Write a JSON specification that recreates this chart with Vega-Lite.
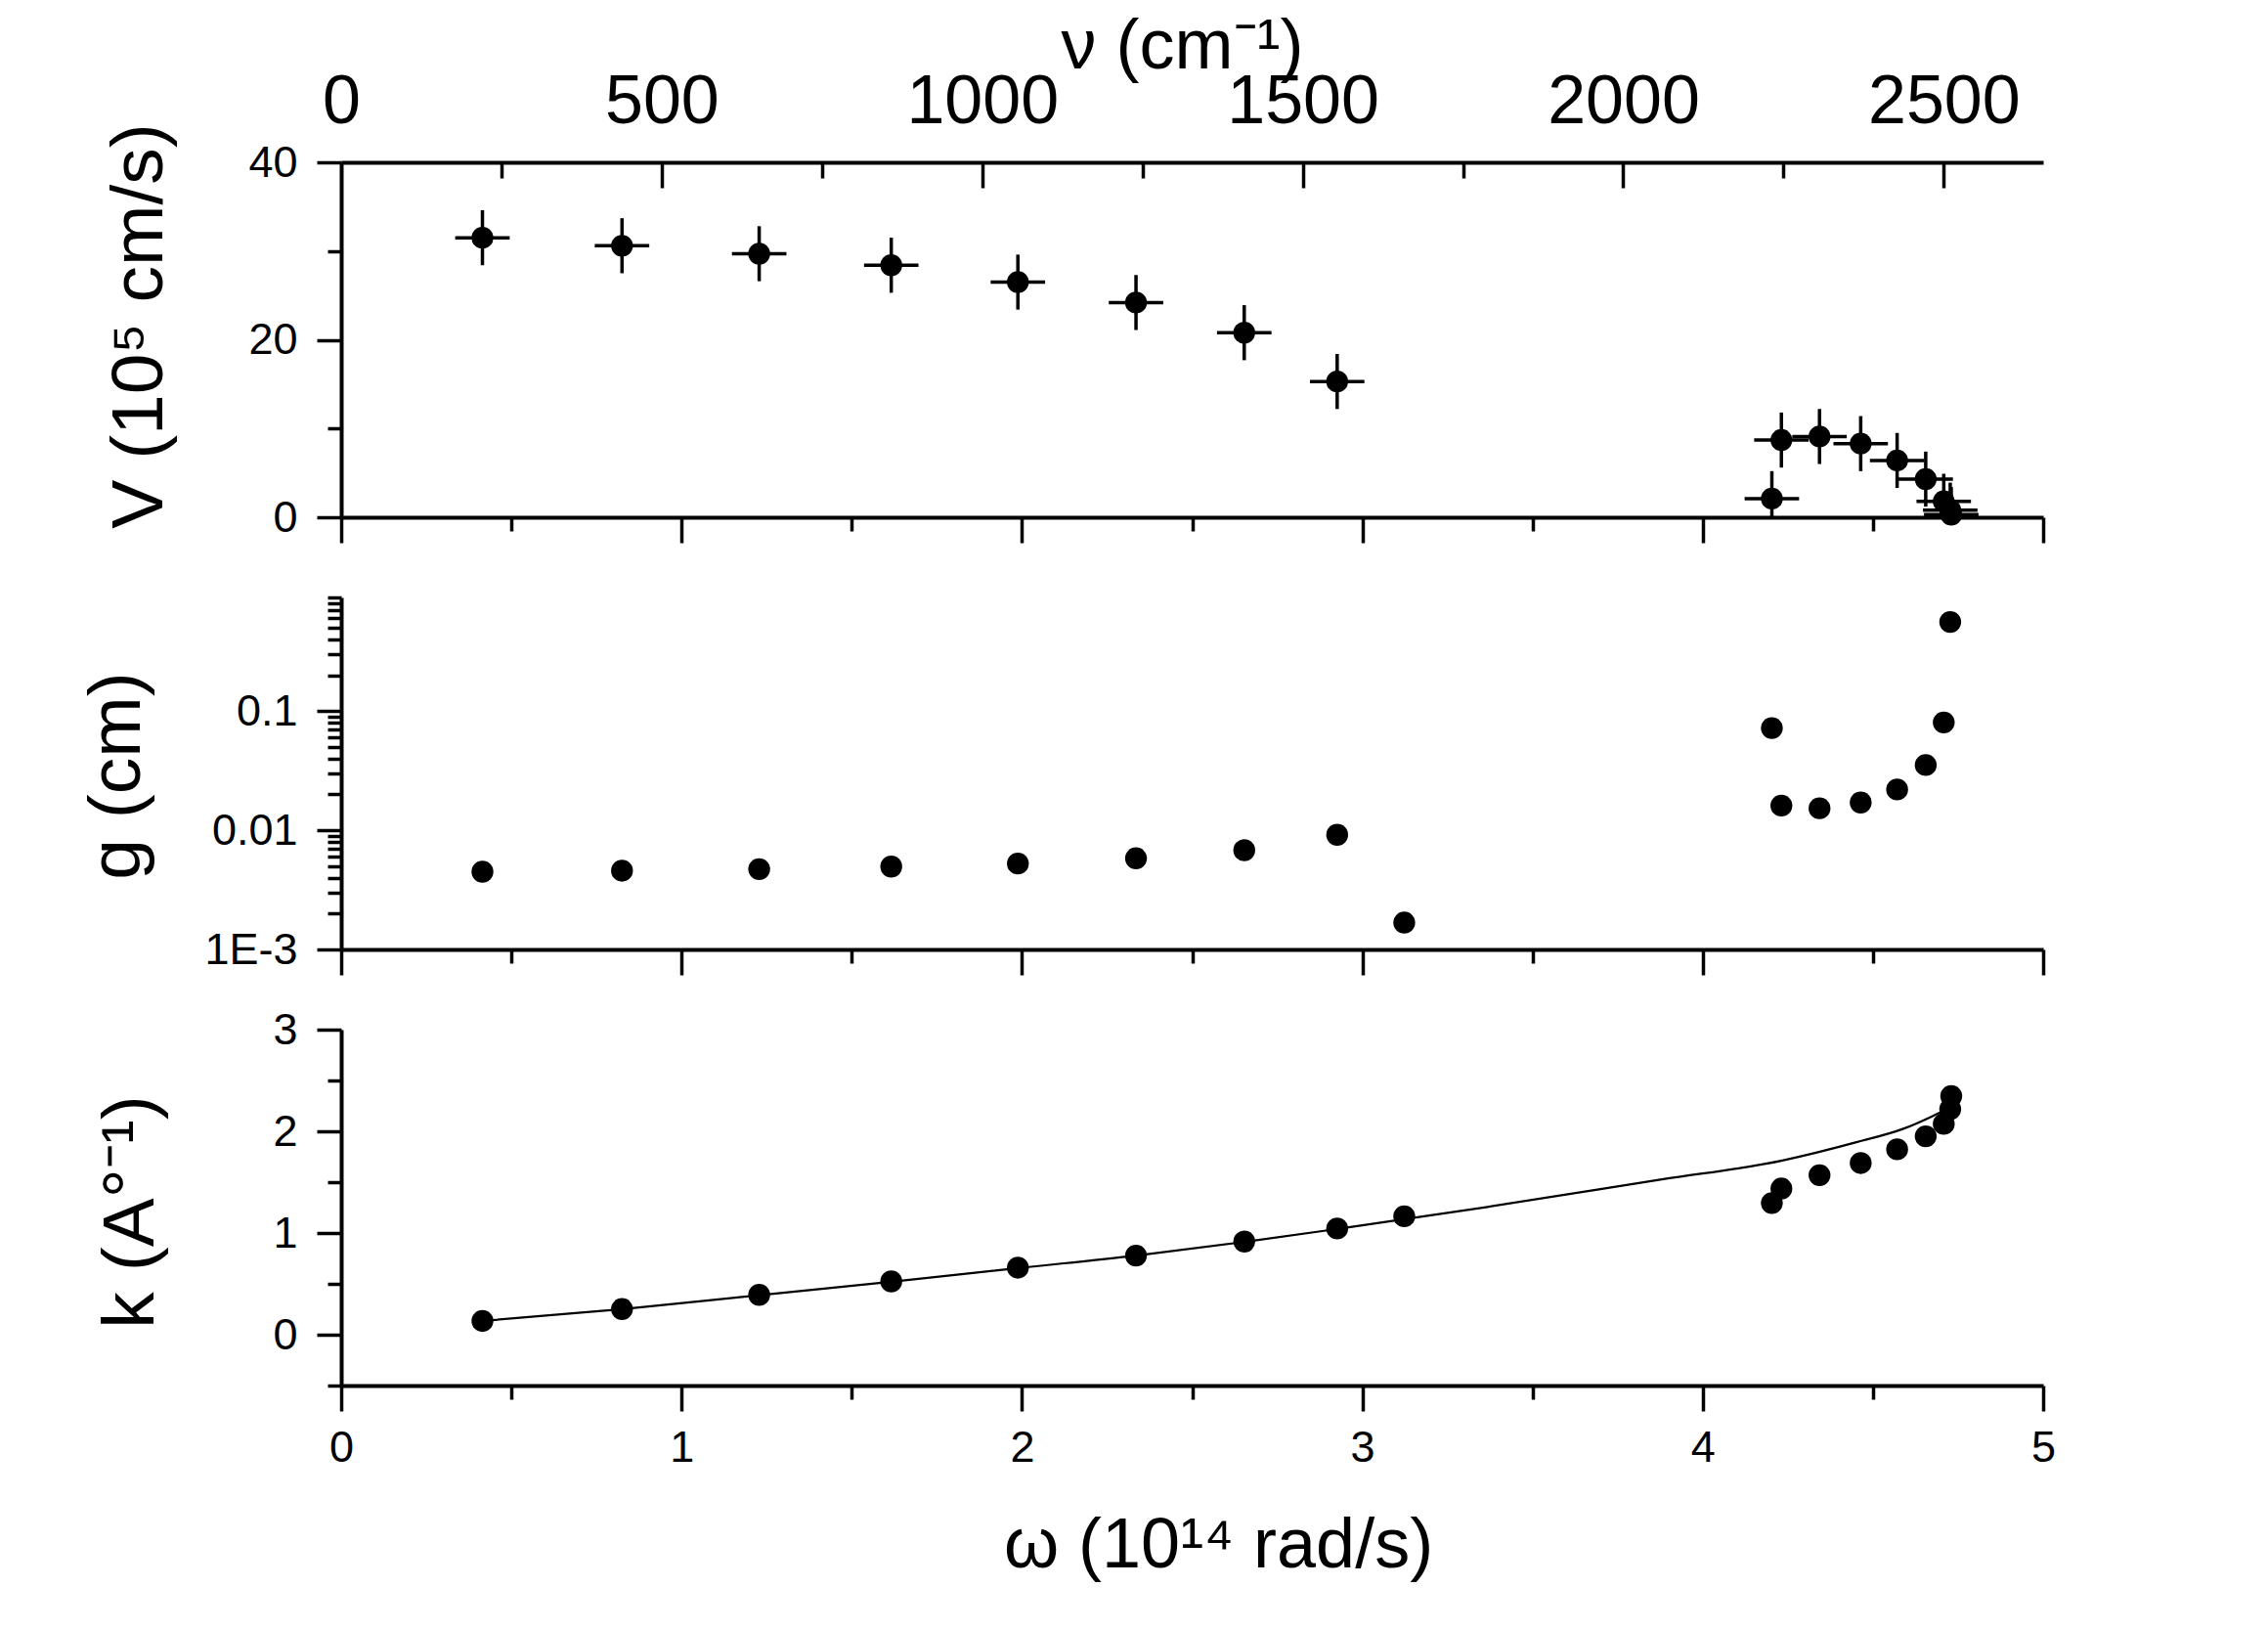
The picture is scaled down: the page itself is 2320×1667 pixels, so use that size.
{
  "$schema": "https://vega.github.io/schema/vega-lite/v6.json",
  "width": 1741,
  "height": 1251,
  "autosize": {"type": "none"},
  "padding": {"left": 349, "top": 166, "right": 230, "bottom": 250},
  "background": "white",
  "config": {
    "font": "Liberation Sans",
    "view": {"stroke": null},
    "axis": {
      "grid": false,
      "labelFlush": false,
      "domainColor": "black",
      "domainWidth": 4,
      "tickColor": "black",
      "tickWidth": 3.5,
      "labelColor": "black",
      "titleColor": "black",
      "labelFont": "Liberation Sans",
      "titleFont": "Liberation Sans",
      "labelFontWeight": "normal",
      "titleFontWeight": "normal",
      "labelFontSize": 45,
      "titleFontSize": 75
    }
  },
  "datasets": {
    "vel": [
      {"omega": 0.415, "V": 31.5, "V_lo": 28.4, "V_hi": 34.6, "w_lo": 0.335, "w_hi": 0.495},
      {"omega": 0.825, "V": 30.6, "V_lo": 27.5, "V_hi": 33.7, "w_lo": 0.745, "w_hi": 0.905},
      {"omega": 1.228, "V": 29.7, "V_lo": 26.6, "V_hi": 32.8, "w_lo": 1.148, "w_hi": 1.308},
      {"omega": 1.616, "V": 28.4, "V_lo": 25.3, "V_hi": 31.5, "w_lo": 1.536, "w_hi": 1.696},
      {"omega": 1.988, "V": 26.5, "V_lo": 23.4, "V_hi": 29.6, "w_lo": 1.908, "w_hi": 2.068},
      {"omega": 2.335, "V": 24.2, "V_lo": 21.1, "V_hi": 27.3, "w_lo": 2.255, "w_hi": 2.415},
      {"omega": 2.653, "V": 20.8, "V_lo": 17.7, "V_hi": 23.9, "w_lo": 2.573, "w_hi": 2.733},
      {"omega": 2.926, "V": 15.3, "V_lo": 12.2, "V_hi": 18.4, "w_lo": 2.846, "w_hi": 3.006},
      {"omega": 4.203, "V": 2.1, "V_lo": 0, "V_hi": 5.2, "w_lo": 4.123, "w_hi": 4.283},
      {"omega": 4.231, "V": 8.7, "V_lo": 5.6, "V_hi": 11.8, "w_lo": 4.151, "w_hi": 4.311},
      {"omega": 4.343, "V": 9.1, "V_lo": 6.0, "V_hi": 12.2, "w_lo": 4.263, "w_hi": 4.423},
      {"omega": 4.464, "V": 8.3, "V_lo": 5.2, "V_hi": 11.4, "w_lo": 4.384, "w_hi": 4.544},
      {"omega": 4.571, "V": 6.4, "V_lo": 3.3, "V_hi": 9.5, "w_lo": 4.491, "w_hi": 4.651},
      {"omega": 4.655, "V": 4.3, "V_lo": 1.2, "V_hi": 7.4, "w_lo": 4.575, "w_hi": 4.735},
      {"omega": 4.708, "V": 1.8, "V_lo": 0, "V_hi": 4.9, "w_lo": 4.628, "w_hi": 4.788},
      {"omega": 4.727, "V": 0.8, "V_lo": 0, "V_hi": 3.9, "w_lo": 4.647, "w_hi": 4.807},
      {"omega": 4.73, "V": 0.3, "V_lo": 0, "V_hi": 3.4, "w_lo": 4.65, "w_hi": 4.81}
    ],
    "gam": [
      {"omega": 0.415, "g": 0.00449},
      {"omega": 0.825, "g": 0.00458},
      {"omega": 1.228, "g": 0.00472},
      {"omega": 1.616, "g": 0.00496},
      {"omega": 1.988, "g": 0.00526},
      {"omega": 2.335, "g": 0.00582},
      {"omega": 2.653, "g": 0.00681},
      {"omega": 2.926, "g": 0.00917},
      {"omega": 3.123, "g": 0.00168},
      {"omega": 4.203, "g": 0.0721},
      {"omega": 4.231, "g": 0.0161},
      {"omega": 4.343, "g": 0.0153},
      {"omega": 4.464, "g": 0.0171},
      {"omega": 4.571, "g": 0.022},
      {"omega": 4.655, "g": 0.0353},
      {"omega": 4.708, "g": 0.0804},
      {"omega": 4.727, "g": 0.56}
    ],
    "wav": [
      {"omega": 0.415, "k": 0.135},
      {"omega": 0.825, "k": 0.252},
      {"omega": 1.228, "k": 0.392},
      {"omega": 1.616, "k": 0.524},
      {"omega": 1.988, "k": 0.659},
      {"omega": 2.335, "k": 0.778},
      {"omega": 2.653, "k": 0.916},
      {"omega": 2.926, "k": 1.044},
      {"omega": 3.123, "k": 1.164},
      {"omega": 4.203, "k": 1.295},
      {"omega": 4.231, "k": 1.437},
      {"omega": 4.343, "k": 1.569},
      {"omega": 4.464, "k": 1.688},
      {"omega": 4.571, "k": 1.823},
      {"omega": 4.655, "k": 1.951},
      {"omega": 4.708, "k": 2.073},
      {"omega": 4.727, "k": 2.218},
      {"omega": 4.73, "k": 2.346}
    ],
    "fit": [
      {"omega": 0.415, "k": 0.135},
      {"omega": 0.825, "k": 0.252},
      {"omega": 1.228, "k": 0.388},
      {"omega": 1.616, "k": 0.52},
      {"omega": 1.988, "k": 0.655},
      {"omega": 2.335, "k": 0.778},
      {"omega": 2.653, "k": 0.912},
      {"omega": 2.926, "k": 1.04},
      {"omega": 3.363, "k": 1.254},
      {"omega": 3.88, "k": 1.527},
      {"omega": 4.234, "k": 1.713},
      {"omega": 4.454, "k": 1.895},
      {"omega": 4.589, "k": 2.025},
      {"omega": 4.675, "k": 2.15},
      {"omega": 4.705, "k": 2.2}
    ],
    "nu_range": [
      {"nu": 0},
      {"nu": 2655}
    ]
  },
  "layer": [
    {
      "data": {"name": "vel"},
      "mark": {"type": "rule", "color": "black", "strokeWidth": 3.5},
      "encoding": {
        "x": {
          "field": "omega",
          "type": "quantitative",
          "scale": {"domain": [0, 5], "nice": false},
          "axis": {"orient": "bottom", "offset": -888, "values": [0, 1, 2, 3, 4, 5], "labels": false, "tickSize": 26, "title": null}
        },
        "y": {
          "field": "V_lo",
          "type": "quantitative",
          "scale": {"domain": [0, 40], "range": [363, 0]},
          "axis": {
            "orient": "left",
            "values": [0, 20, 40],
            "tickSize": 25,
            "labelPadding": 20,
            "title": "V (10⁵ cm/s)",
            "titleX": -184,
            "titleY": 167,
            "titleBaseline": "alphabetic"
          }
        },
        "y2": {"field": "V_hi"}
      }
    },
    {
      "data": {"name": "vel"},
      "mark": {"type": "rule", "color": "black", "strokeWidth": 3.5},
      "encoding": {
        "x": {
          "field": "w_lo",
          "type": "quantitative",
          "scale": {"domain": [0, 5], "nice": false},
          "axis": {"orient": "bottom", "offset": -888, "values": [0.5, 1.5, 2.5, 3.5, 4.5], "labels": false, "domain": false, "tickSize": 14, "title": null}
        },
        "x2": {"field": "w_hi"},
        "y": {
          "field": "V",
          "type": "quantitative",
          "scale": {"domain": [0, 40], "range": [363, 0]},
          "axis": {"orient": "left", "values": [10, 30], "labels": false, "domain": false, "tickSize": 14, "title": null}
        }
      }
    },
    {
      "data": {"name": "vel"},
      "mark": {"type": "circle", "color": "black", "opacity": 1, "size": 500},
      "encoding": {
        "x": {"field": "omega", "type": "quantitative", "scale": {"domain": [0, 5], "nice": false}, "axis": null},
        "y": {"field": "V", "type": "quantitative", "scale": {"domain": [0, 40], "range": [363, 0]}, "axis": null}
      }
    },
    {
      "data": {"name": "nu_range"},
      "mark": {"type": "point", "opacity": 0},
      "encoding": {
        "x": {
          "field": "nu",
          "type": "quantitative",
          "scale": {"domain": [0, 2655], "nice": false},
          "axis": {
            "orient": "top",
            "values": [0, 500, 1000, 1500, 2000, 2500],
            "format": "d",
            "ticks": false,
            "labelFontSize": 70,
            "labelBaseline": "alphabetic",
            "labelPadding": 41,
            "title": "ν (cm⁻¹)",
            "titleFontSize": 72,
            "titleBaseline": "alphabetic",
            "titleX": 860,
            "titleY": -97
          }
        }
      }
    },
    {
      "data": {"name": "nu_range"},
      "mark": {"type": "point", "opacity": 0},
      "encoding": {
        "x": {
          "field": "nu",
          "type": "quantitative",
          "scale": {"domain": [0, 2655], "nice": false},
          "axis": {"orient": "top", "values": [500, 1000, 1500, 2000, 2500], "labels": false, "domain": false, "offset": -26, "tickSize": 26, "title": null}
        }
      }
    },
    {
      "data": {"name": "nu_range"},
      "mark": {"type": "point", "opacity": 0},
      "encoding": {
        "x": {
          "field": "nu",
          "type": "quantitative",
          "scale": {"domain": [0, 2655], "nice": false},
          "axis": {"orient": "top", "values": [250, 750, 1250, 1750, 2250], "labels": false, "domain": false, "offset": -16, "tickSize": 16, "title": null}
        }
      }
    },
    {
      "data": {"name": "gam"},
      "mark": {"type": "circle", "color": "black", "opacity": 1, "size": 500},
      "encoding": {
        "x": {
          "field": "omega",
          "type": "quantitative",
          "scale": {"domain": [0, 5], "nice": false},
          "axis": {"orient": "bottom", "offset": -446, "values": [0, 1, 2, 3, 4, 5], "labels": false, "tickSize": 26, "title": null}
        },
        "y": {
          "field": "g",
          "type": "quantitative",
          "scale": {"type": "log", "domain": [0.001, 0.9], "nice": false, "range": [805, 445]},
          "axis": {
            "orient": "left",
            "values": [0.001, 0.01, 0.1],
            "labelExpr": "datum.value < 0.005 ? '1E-3' : (datum.value < 0.05 ? '0.01' : '0.1')",
            "tickSize": 25,
            "labelPadding": 20,
            "title": "g (cm)",
            "titleX": -207,
            "titleY": 627,
            "titleBaseline": "alphabetic"
          }
        }
      }
    },
    {
      "data": {"name": "gam"},
      "mark": {"type": "circle", "opacity": 0},
      "encoding": {
        "x": {
          "field": "omega",
          "type": "quantitative",
          "scale": {"domain": [0, 5], "nice": false},
          "axis": {"orient": "bottom", "offset": -446, "values": [0.5, 1.5, 2.5, 3.5, 4.5], "labels": false, "domain": false, "tickSize": 14, "title": null}
        },
        "y": {
          "field": "g",
          "type": "quantitative",
          "scale": {"type": "log", "domain": [0.001, 0.9], "nice": false, "range": [805, 445]},
          "axis": {
            "orient": "left",
            "values": [0.002, 0.003, 0.004, 0.005, 0.006, 0.007, 0.008, 0.009, 0.02, 0.03, 0.04, 0.05, 0.06, 0.07, 0.08, 0.09, 0.2, 0.3, 0.4, 0.5, 0.6, 0.7, 0.8, 0.9],
            "labels": false,
            "domain": false,
            "tickSize": 14,
            "title": null
          }
        }
      }
    },
    {
      "data": {"name": "fit"},
      "mark": {"type": "line", "color": "black", "strokeWidth": 2.2, "interpolate": "monotone"},
      "encoding": {
        "x": {
          "field": "omega",
          "type": "quantitative",
          "scale": {"domain": [0, 5], "nice": false},
          "axis": {
            "orient": "bottom",
            "values": [0, 1, 2, 3, 4, 5],
            "tickSize": 26,
            "labelBaseline": "alphabetic",
            "labelPadding": 51,
            "title": "ω (10¹⁴ rad/s)",
            "titleFontSize": 72,
            "titleBaseline": "alphabetic",
            "titleX": 897,
            "titleY": 185
          }
        },
        "y": {
          "field": "k",
          "type": "quantitative",
          "scale": {"domain": [-0.5, 3], "range": [1251, 887]},
          "axis": {
            "orient": "left",
            "values": [0, 1, 2, 3],
            "tickSize": 25,
            "labelPadding": 20,
            "title": "k (A°⁻¹)",
            "titleX": -193,
            "titleY": 1073,
            "titleBaseline": "alphabetic"
          }
        }
      }
    },
    {
      "data": {"name": "wav"},
      "mark": {"type": "circle", "color": "black", "opacity": 1, "size": 500},
      "encoding": {
        "x": {
          "field": "omega",
          "type": "quantitative",
          "scale": {"domain": [0, 5], "nice": false},
          "axis": {"orient": "bottom", "values": [0.5, 1.5, 2.5, 3.5, 4.5], "labels": false, "domain": false, "tickSize": 14, "title": null}
        },
        "y": {
          "field": "k",
          "type": "quantitative",
          "scale": {"domain": [-0.5, 3], "range": [1251, 887]},
          "axis": {"orient": "left", "values": [-0.5, 0.5, 1.5, 2.5], "labels": false, "domain": false, "tickSize": 14, "title": null}
        }
      }
    }
  ],
  "resolve": {
    "scale": {"x": "independent", "y": "independent"},
    "axis": {"x": "independent", "y": "independent"}
  }
}
